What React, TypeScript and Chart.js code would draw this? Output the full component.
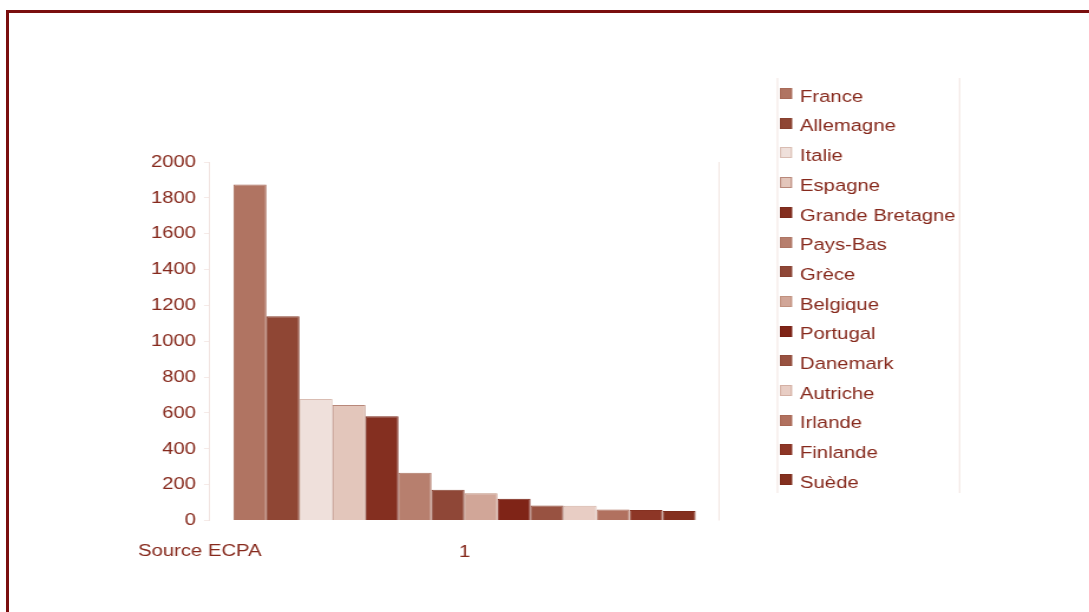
import React, { useEffect, useRef } from 'react';
import { Chart, registerables } from 'chart.js';

Chart.register(...registerables);

const categories = ['1'];
const countries = [
  'France', 'Allemagne', 'Italie', 'Espagne', 'Grande Bretagne', 'Pays-Bas', 'Grèce',
  'Belgique', 'Portugal', 'Danemark', 'Autriche', 'Irlande', 'Finlande', 'Suède',
];
const values = [1875, 1140, 678, 645, 582, 266, 171, 152, 121, 84, 82, 61, 59, 53];
const colors = [
  '#b07462', '#8f4634', '#efe0db', '#e3c6bb', '#842f20', '#b77f6e', '#8f4737',
  '#d1a698', '#7f2417', '#985241', '#e8cdc4', '#b1715f', '#8d3626', '#84301f',
];
const borderColors = [
  '#a86a58', '#87402f', '#d9bcb2', '#b8887a', '#7a2a1c', '#ad7564', '#874132',
  '#c0917f', '#771f13', '#904b3a', '#d4b0a4', '#a86855', '#853121', '#7c2b1b',
];
const yMin = 0;
const yMax = 2000;
const yStep = 200;
const sourceLabel = 'Source ECPA';

const TEXT = '#86291c';
const FAINT = '#f1e3df';
const FONT = '"Liberation Sans", Arial, sans-serif';
const FSIZE = 17.2;

// the original picture is stretched horizontally; draw narrower and stretch via CSS
const PAGE_W = 1089;
const PAGE_H = 612;
const W = 923;
const SX = PAGE_W / W;
const px = (x: number) => x / SX;

const extras = {
  id: 'extras',
  afterDraw(chart: any) {
    const ctx = chart.ctx;
    const a = chart.chartArea;
    ctx.save();
    ctx.strokeStyle = FAINT;
    ctx.lineWidth = 1;
    ctx.beginPath();
    ctx.moveTo(a.right, a.top);
    ctx.lineTo(a.right, a.bottom);
    ctx.stroke();
    ctx.fillStyle = TEXT;
    ctx.font = `${FSIZE}px ${FONT}`;
    ctx.textAlign = 'left';
    ctx.textBaseline = 'middle';
    ctx.fillText(sourceLabel, px(138), 551);
    ctx.strokeStyle = FAINT;
    ctx.beginPath();
    ctx.moveTo(px(777.5), 78);
    ctx.lineTo(px(777.5), 493);
    ctx.moveTo(px(959.5), 78);
    ctx.lineTo(px(959.5), 493);
    ctx.stroke();
    chart.data.datasets.forEach((ds: any, i: number) => {
      const by = Math.round(88 + i * 29.7);
      ctx.fillStyle = ds.backgroundColor;
      ctx.fillRect(px(780), by, px(12), 11);
      ctx.strokeStyle = ds.borderColor;
      ctx.lineWidth = 1;
      ctx.strokeRect(px(780) + 0.5, by + 0.5, px(12) - 1, 10);
      ctx.fillStyle = TEXT;
      ctx.textBaseline = 'middle';
      ctx.fillText(ds.label, px(800), 97 + i * 29.7);
    });
    ctx.restore();
  },
};

export default function App() {
  const ref = useRef<HTMLCanvasElement | null>(null);
  useEffect(() => {
    if (!ref.current) return;
    const chart = new Chart(ref.current, {
      type: 'bar',
      data: {
        labels: categories,
        datasets: countries.map((c, i) => ({
          label: c,
          data: [values[i]],
          backgroundColor: colors[i],
          borderColor: borderColors[i],
          borderWidth: 1,
          categoryPercentage: 0.908,
          barPercentage: 1,
        })),
      },
      options: {
        responsive: false,
        animation: false,
        devicePixelRatio: 1,
        layout: { padding: { left: 0, top: 162, right: px(370), bottom: 0 } },
        plugins: { legend: { display: false }, tooltip: { enabled: false } },
        scales: {
          x: {
            grid: { display: false, drawTicks: false },
            border: { display: false },
            ticks: { font: { family: FONT, size: FSIZE }, color: TEXT, padding: 21 },
            afterFit: (s: any) => { s.height = 91.5; },
          },
          y: {
            min: yMin,
            max: yMax,
            ticks: {
              stepSize: yStep,
              font: { family: FONT, size: FSIZE },
              color: TEXT,
              padding: px(8),
              callback: (v: any) => String(v),
            },
            grid: { drawOnChartArea: false, drawTicks: true, tickLength: px(6), tickColor: '#f5eae7' },
            border: { color: FAINT, width: 1 },
            afterFit: (s: any) => { s.width = px(210); },
          },
        },
      },
      plugins: [extras],
    });
    return () => chart.destroy();
  }, []);

  return (
    <div style={{ position: 'absolute', left: 0, top: 0, width: PAGE_W, height: PAGE_H, overflow: 'hidden', background: '#fff' }}>
      <div style={{ position: 'absolute', left: 6, top: 10, width: 1200, height: 800, borderTop: '3px solid #7a0e0e', borderLeft: '3px solid #7a0e0e' }} />
      <canvas
        ref={ref}
        width={W}
        height={PAGE_H}
        style={{ position: 'absolute', left: 0, top: 0, width: PAGE_W, height: PAGE_H }}
      />
    </div>
  );
}
